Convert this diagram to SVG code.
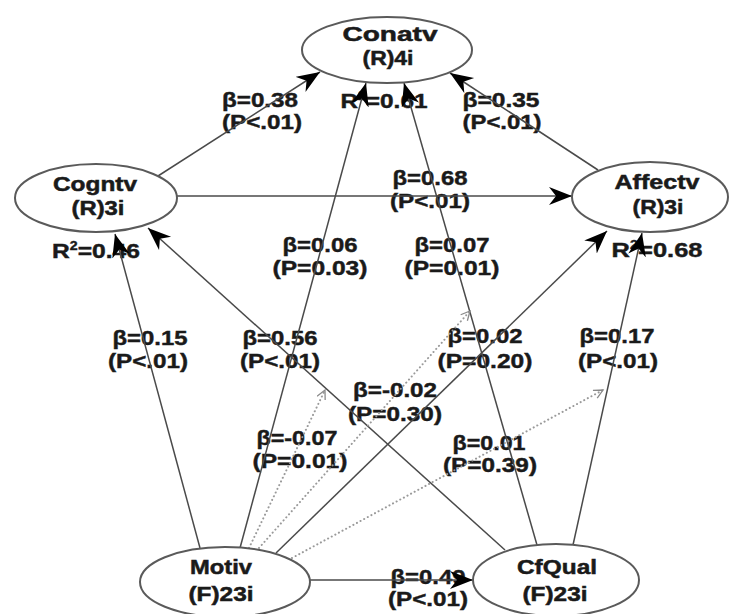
<svg xmlns="http://www.w3.org/2000/svg" width="733" height="614" viewBox="0 0 733 614">
  <style>
    .bg { fill: #ffffff; }
    .node { fill: #ffffff; stroke: #5a5a5a; stroke-width: 2; }
    .nt { font-family: "Liberation Sans", Arial, sans-serif; font-weight: bold; font-size: 20px; fill: #1a1a1a; stroke: #1a1a1a; stroke-width: 0.5; text-anchor: middle; }
    .lt { font-family: "Liberation Sans", Arial, sans-serif; font-weight: bold; font-size: 21px; fill: #1a1a1a; stroke: #1a1a1a; stroke-width: 0.45; text-anchor: middle; }
    .edge { stroke: #4a4a4a; stroke-width: 1.5; fill: none; marker-end: url(#arrow); }
    .mod { stroke: #9a9a9a; stroke-width: 2; fill: none; stroke-dasharray: 0.1 4; stroke-linecap: round; marker-end: url(#open); }
  </style>
  <defs>
    <marker id="arrow" markerUnits="userSpaceOnUse" markerWidth="26" markerHeight="20" refX="23" refY="9" orient="auto">
      <path d="M0,0 L23,9 L0,18 L7,9 Z" fill="#000000"/>
    </marker>
    <marker id="open" markerUnits="userSpaceOnUse" markerWidth="14" markerHeight="12" refX="10" refY="5" orient="auto">
      <path d="M1,0.5 L10,5 L1,9.5" fill="none" stroke="#8a8a8a" stroke-width="1.3"/>
    </marker>
  </defs>

  <rect class="bg" x="0" y="0" width="733" height="614"/>

  <!-- path coefficients -->
  <g id="labels">
    <text class="lt" x="260" y="107" textLength="76" lengthAdjust="spacingAndGlyphs">β=0.38</text>
    <text class="lt" x="262" y="129" textLength="80" lengthAdjust="spacingAndGlyphs">(P&lt;.01)</text>
    <text class="lt" x="384" y="108" textLength="87" lengthAdjust="spacingAndGlyphs">R<tspan dy="-8" font-size="12">2</tspan><tspan dy="8">=0.61</tspan></text>
    <text class="lt" x="501" y="107" textLength="77" lengthAdjust="spacingAndGlyphs">β=0.35</text>
    <text class="lt" x="502" y="129" textLength="79" lengthAdjust="spacingAndGlyphs">(P&lt;.01)</text>
    <text class="lt" x="430" y="185" textLength="75" lengthAdjust="spacingAndGlyphs">β=0.68</text>
    <text class="lt" x="430" y="208" textLength="80" lengthAdjust="spacingAndGlyphs">(P&lt;.01)</text>
    <text class="lt" x="96" y="258" textLength="88" lengthAdjust="spacingAndGlyphs">R<tspan dy="-8" font-size="12">2</tspan><tspan dy="8">=0.46</tspan></text>
    <text class="lt" x="657" y="257" textLength="91" lengthAdjust="spacingAndGlyphs">R<tspan dy="-8" font-size="12">2</tspan><tspan dy="8">=0.68</tspan></text>
    <text class="lt" x="320" y="252" textLength="75" lengthAdjust="spacingAndGlyphs">β=0.06</text>
    <text class="lt" x="320" y="275" textLength="95" lengthAdjust="spacingAndGlyphs">(P=0.03)</text>
    <text class="lt" x="452" y="252" textLength="75" lengthAdjust="spacingAndGlyphs">β=0.07</text>
    <text class="lt" x="452" y="275" textLength="95" lengthAdjust="spacingAndGlyphs">(P=0.01)</text>
    <text class="lt" x="150" y="345" textLength="75" lengthAdjust="spacingAndGlyphs">β=0.15</text>
    <text class="lt" x="148" y="368" textLength="80" lengthAdjust="spacingAndGlyphs">(P&lt;.01)</text>
    <text class="lt" x="280" y="345" textLength="75" lengthAdjust="spacingAndGlyphs">β=0.56</text>
    <text class="lt" x="280" y="368" textLength="80" lengthAdjust="spacingAndGlyphs">(P&lt;.01)</text>
    <text class="lt" x="485" y="343" textLength="75" lengthAdjust="spacingAndGlyphs">β=0.02</text>
    <text class="lt" x="485" y="368" textLength="95" lengthAdjust="spacingAndGlyphs">(P=0.20)</text>
    <text class="lt" x="617" y="343" textLength="75" lengthAdjust="spacingAndGlyphs">β=0.17</text>
    <text class="lt" x="618" y="368" textLength="80" lengthAdjust="spacingAndGlyphs">(P&lt;.01)</text>
    <text class="lt" x="395" y="397" textLength="84" lengthAdjust="spacingAndGlyphs">β=-0.02</text>
    <text class="lt" x="395" y="421" textLength="94" lengthAdjust="spacingAndGlyphs">(P=0.30)</text>
    <text class="lt" x="297" y="445" textLength="81" lengthAdjust="spacingAndGlyphs">β=-0.07</text>
    <text class="lt" x="300" y="468" textLength="95" lengthAdjust="spacingAndGlyphs">(P=0.01)</text>
    <text class="lt" x="489" y="450" textLength="73" lengthAdjust="spacingAndGlyphs">β=0.01</text>
    <text class="lt" x="490" y="472" textLength="94" lengthAdjust="spacingAndGlyphs">(P=0.39)</text>
    <text class="lt" x="428" y="584" textLength="75" lengthAdjust="spacingAndGlyphs">β=0.49</text>
    <text class="lt" x="428" y="606" textLength="80" lengthAdjust="spacingAndGlyphs">(P&lt;.01)</text>
  </g>

  <!-- structural paths and moderating effects -->
  <g id="connectors">
    <line class="edge" x1="158" y1="176" x2="320" y2="72"/>
    <line class="edge" x1="598" y1="170" x2="450" y2="73"/>
    <line class="edge" x1="240" y1="548" x2="366" y2="83"/>
    <line class="edge" x1="537" y1="545" x2="404" y2="83"/>
    <line class="edge" x1="177" y1="196" x2="572" y2="196"/>
    <line class="edge" x1="200" y1="548" x2="115" y2="234"/>
    <line class="edge" x1="505" y1="550" x2="148" y2="228"/>
    <line class="edge" x1="276" y1="553" x2="607" y2="231"/>
    <line class="edge" x1="573" y1="545" x2="642" y2="233"/>
    <line class="edge" x1="310" y1="580" x2="473" y2="580"/>
    <line class="mod" x1="249" y1="548" x2="325" y2="390"/>
    <line class="mod" x1="259" y1="548" x2="470" y2="311"/>
    <line class="mod" x1="292" y1="558" x2="603" y2="390"/>
  </g>

  <g id="conatv">
    <ellipse class="node" cx="387" cy="50" rx="85" ry="33"/>
    <text class="nt" x="390" y="41" textLength="95" lengthAdjust="spacingAndGlyphs">Conatv</text>
    <text class="nt" x="388" y="65" textLength="51" lengthAdjust="spacingAndGlyphs">(R)4i</text>
  </g>
  <g id="cogntv">
    <ellipse class="node" cx="96" cy="198" rx="81" ry="34"/>
    <text class="nt" x="95" y="191" textLength="84" lengthAdjust="spacingAndGlyphs">Cogntv</text>
    <text class="nt" x="98" y="215" textLength="53" lengthAdjust="spacingAndGlyphs">(R)3i</text>
  </g>
  <g id="affectv">
    <ellipse class="node" cx="650" cy="197" rx="78" ry="35"/>
    <text class="nt" x="657" y="189" textLength="85" lengthAdjust="spacingAndGlyphs">Affectv</text>
    <text class="nt" x="658" y="214" textLength="51" lengthAdjust="spacingAndGlyphs">(R)3i</text>
  </g>
  <g id="motiv">
    <ellipse class="node" cx="225" cy="582" rx="85" ry="35"/>
    <text class="nt" x="221" y="574" textLength="62" lengthAdjust="spacingAndGlyphs">Motiv</text>
    <text class="nt" x="221" y="601" textLength="65" lengthAdjust="spacingAndGlyphs">(F)23i</text>
  </g>
  <g id="cfqual">
    <ellipse class="node" cx="556" cy="580" rx="83" ry="36"/>
    <text class="nt" x="557" y="574" textLength="80" lengthAdjust="spacingAndGlyphs">CfQual</text>
    <text class="nt" x="555" y="601" textLength="65" lengthAdjust="spacingAndGlyphs">(F)23i</text>
  </g>
</svg>
